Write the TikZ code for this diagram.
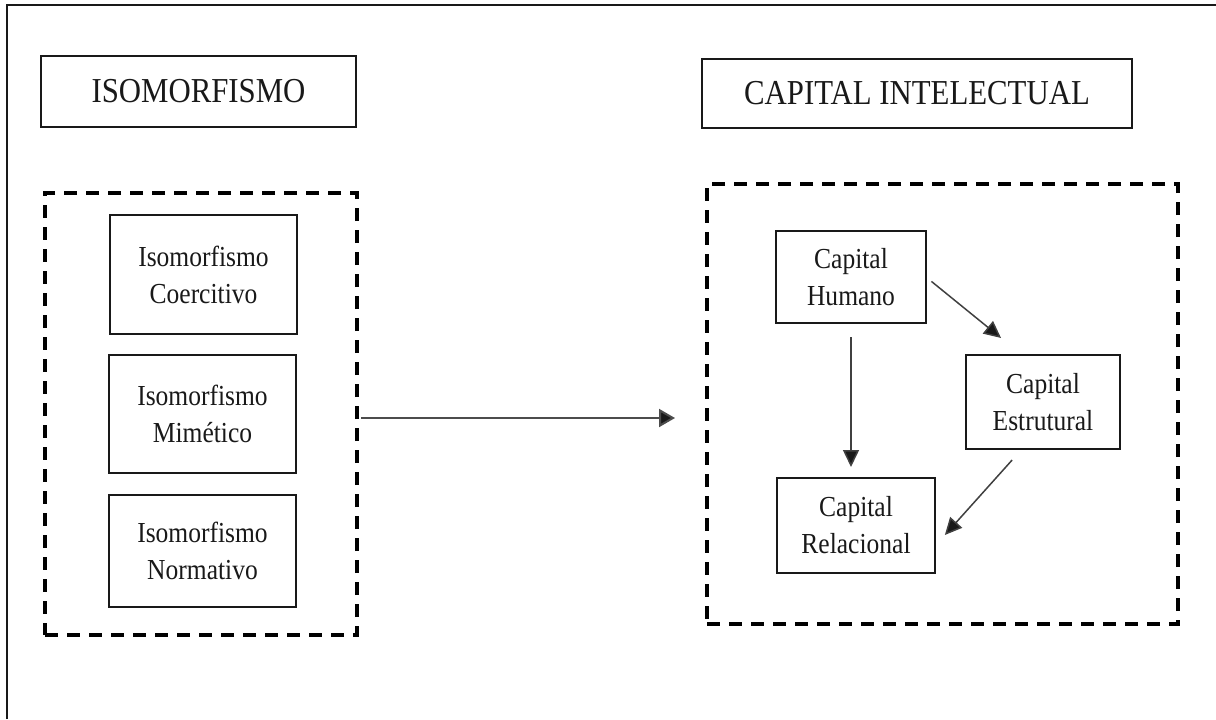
\documentclass[tikz,border=0pt]{standalone}
\usepackage{fontspec}
\setmainfont{Liberation Serif}[FakeStretch=0.88]
\usetikzlibrary{arrows.meta}
\definecolor{ink}{gray}{0.1}
\definecolor{arrowc}{gray}{0.25}
\tikzset{
  x=0.5pt, y=-0.5pt,
  titlebox/.style={draw=ink, line width=0.8pt, inner sep=0pt, outer sep=0pt, font=\fontsize{17.5}{21}\selectfont, text=ink},
  leftbox/.style={draw=ink, line width=1.4pt, inner sep=0pt, outer sep=0pt, minimum width=93.5pt, align=center, font=\fontsize{14.5}{18.5}\selectfont, text=ink},
  rightbox/.style={draw=ink, line width=0.8pt, inner sep=0pt, outer sep=0pt, align=center, font=\fontsize{14.5}{18.5}\selectfont, text=ink},
  dbox/.style={draw=black, line width=1.75pt, dash pattern=on 6.5pt off 4.5pt, inner sep=0pt, outer sep=0pt},
  conn/.style={draw=arrowc, line width=0.75pt, -{Triangle[length=8.5pt,width=8pt,fill=ink]}},
  mainconn/.style={draw=arrowc!80!gray, line width=1pt, -{Triangle[length=8pt,width=9pt,fill=ink]}},
  frame/.style={draw=ink, line width=0.8pt}
}
\begin{document}
\begin{tikzpicture}
\useasboundingbox[fill=white] (0,0) rectangle (1216,719);
\draw[frame] (7,719) -- (7,5) -- (1216,5);

\node[titlebox, minimum width=157.5pt, minimum height=35.5pt] (iso) at (198.5,91.5) {ISOMORFISMO};
\node[titlebox, minimum width=215pt, minimum height=34.5pt] (cap) at (917,93.5) {CAPITAL INTELECTUAL};

\node[dbox, minimum width=156pt, minimum height=221pt] (L) at (201,414) {};
\node[dbox, minimum width=235.5pt, minimum height=220pt] (R) at (942.5,404) {};

\node[leftbox, minimum height=59.5pt] (coerc) at (203.5,274.5) {Isomorfismo\\Coercitivo};
\node[leftbox, minimum height=59pt] (mim) at (202.5,414) {Isomorfismo\\Mimético};
\node[leftbox, minimum height=56pt] (norm) at (202.5,551) {Isomorfismo\\Normativo};

\node[rightbox, minimum width=75pt, minimum height=46pt] (hum) at (851,277) {Capital\\Humano};
\node[rightbox, minimum width=77pt, minimum height=47pt] (est) at (1043,402) {Capital\\Estrutural};
\node[rightbox, minimum width=79pt, minimum height=47.5pt] (rel) at (856,525.5) {Capital\\Relacional};

\draw[mainconn, shorten <=2pt, shorten >=16pt] ([yshift=-2pt]L.east) -- ([yshift=-2pt]L.east -| R.west);
\draw[conn, shorten <=7pt, shorten >=5.5pt] (hum.south) -- (hum.south |- rel.north);
\draw[conn, shorten <=3.5pt, shorten >=13.5pt] (hum.east) -- ([xshift=28pt]est.north west);
\draw[conn, shorten <=7.4pt, shorten >=7.4pt] ([xshift=28pt]est.south west) -- ([yshift=13.5pt]rel.south east);
\end{tikzpicture}
\end{document}
